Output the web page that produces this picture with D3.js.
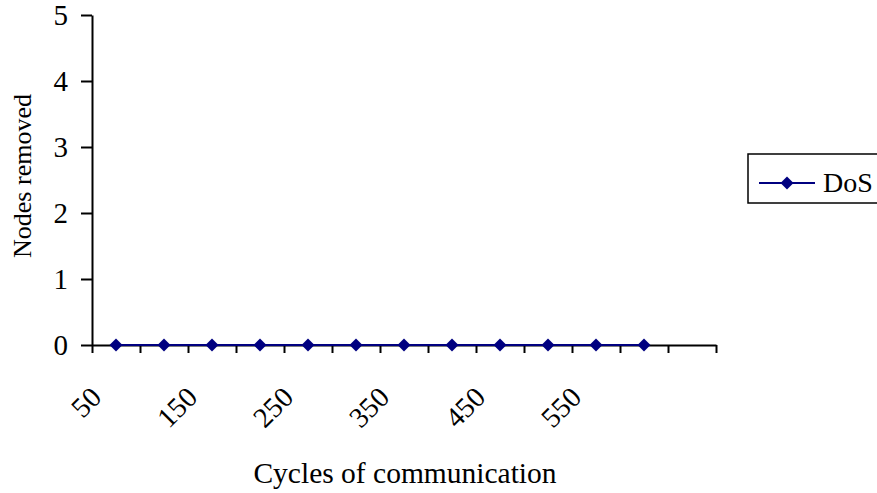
<!DOCTYPE html>
<html>
<head>
<meta charset="utf-8">
<script src="https://cdn.jsdelivr.net/npm/d3@7"></script>
<style>
  body { margin: 0; background: #fff; }
  svg { display: block; }
  text { font-family: "Liberation Serif", "Times New Roman", serif; fill: #000; }
</style>
</head>
<body>
<svg id="chart" width="877" height="493"></svg>
<script>
// Category axis (last slot is an empty row), series values and labelled ticks
const categories = ["50","100","150","200","250","300","350","400","450","500","550","600",""];
const dosValues = [0,0,0,0,0,0,0,0,0,0,0,0,null];
const yTicks = [0, 1, 2, 3, 4, 5];
const labelledCategories = ["50","150","250","350","450","550"];
const seriesName = "DoS";

const svg = d3.select("#chart");
const plot = { left: 92, right: 716, top: 15, bottom: 345 };
const navy = "#000080";

const x = d3.scaleBand().domain(d3.range(categories.length)).range([plot.left, plot.right]);
const xEdges = d3.scaleLinear().domain([0, categories.length]).range([plot.left, plot.right]);
const y = d3.scaleLinear().domain([0, 5]).range([plot.bottom, plot.top]);
const cx = i => x(i) + x.bandwidth() / 2;

// Value axis
const yAxis = svg.append("g")
  .attr("transform", `translate(${plot.left},0)`)
  .call(d3.axisLeft(y).tickValues(yTicks).tickFormat(d3.format("d"))
    .tickSize(11).tickSizeOuter(0).tickPadding(13));
yAxis.select(".domain").attr("stroke", "#000").attr("stroke-width", 2);
yAxis.selectAll(".tick line").attr("stroke", "#000").attr("stroke-width", 2);
yAxis.selectAll(".tick text").attr("font-size", 29).attr("fill", "#000")
  .attr("font-family", "Liberation Serif, Times New Roman, serif");

// Category axis: tick marks on category boundaries
const xAxis = svg.append("g")
  .attr("transform", `translate(0,${plot.bottom})`)
  .call(d3.axisBottom(xEdges).tickValues(d3.range(categories.length + 1))
    .tickFormat("").tickSize(8).tickSizeOuter(0));
xAxis.select(".domain").attr("stroke", "#000").attr("stroke-width", 2);
xAxis.selectAll(".tick line").attr("stroke", "#000").attr("stroke-width", 2);

// Category labels, rotated, every other category
const xLabels = svg.append("g")
  .attr("transform", `translate(0,${plot.bottom})`)
  .call(d3.axisBottom(x)
    .tickFormat(i => labelledCategories.includes(categories[i]) ? categories[i] : "")
    .tickSize(0).tickSizeOuter(0));
xLabels.select(".domain").remove();
xLabels.selectAll(".tick text")
  .attr("font-size", 28.5).attr("fill", "#000")
  .attr("font-family", "Liberation Serif, Times New Roman, serif")
  .attr("text-anchor", "end")
  .attr("x", -13).attr("y", 54).attr("dy", 0)
  .attr("transform", "rotate(-45,-13,54)");

// Series line and markers
const line = d3.line()
  .defined(d => d != null)
  .x((d, i) => cx(i))
  .y(d => y(d));
svg.append("path")
  .datum(dosValues)
  .attr("fill", "none")
  .attr("stroke", navy)
  .attr("stroke-width", 2)
  .attr("d", line);

const diamond = d3.symbol(d3.symbolSquare, 84);
svg.append("g").selectAll("path")
  .data(dosValues.map((v, i) => ({ v, i })).filter(d => d.v != null))
  .join("path")
  .attr("d", diamond)
  .attr("fill", navy)
  .attr("transform", d => `translate(${cx(d.i)},${y(d.v)}) rotate(45)`);

// Axis titles
svg.append("text")
  .attr("x", 405).attr("y", 483)
  .attr("text-anchor", "middle").attr("font-size", 29.5)
  .text("Cycles of communication");
svg.append("text")
  .attr("transform", "translate(31,176) rotate(-90)")
  .attr("text-anchor", "middle").attr("font-size", 26)
  .text("Nodes removed");

// Legend
const legend = svg.append("g");
legend.append("rect")
  .attr("x", 748).attr("y", 154).attr("width", 200).attr("height", 49)
  .attr("fill", "#fff").attr("stroke", "#000").attr("stroke-width", 1.5);
legend.append("line")
  .attr("x1", 759).attr("x2", 815).attr("y1", 183).attr("y2", 183)
  .attr("stroke", navy).attr("stroke-width", 2);
legend.append("path")
  .attr("d", diamond).attr("fill", navy)
  .attr("transform", "translate(787,183) rotate(45)");
legend.append("text")
  .attr("x", 823).attr("y", 192).attr("font-size", 28)
  .text(seriesName);
</script>
</body>
</html>
